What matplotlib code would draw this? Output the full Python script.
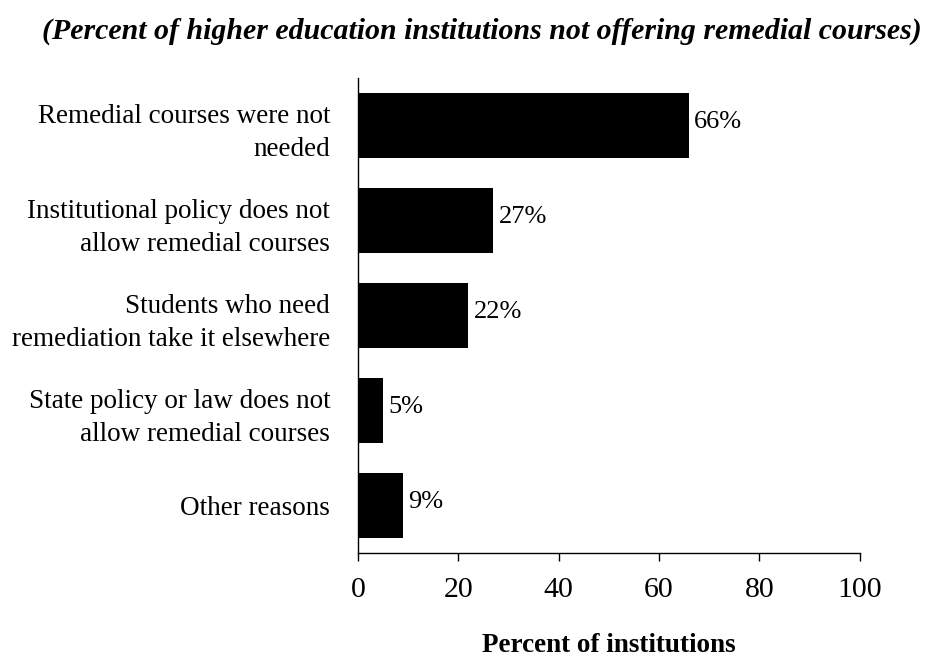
import matplotlib
matplotlib.use("Agg")
import matplotlib.pyplot as plt

# ── Data ─────────────────────────────────────────────────────────────
reasons = [
    "Remedial courses were not\nneeded",
    "Institutional policy does not\nallow remedial courses",
    "Students who need\nremediation take it elsewhere",
    "State policy or law does not\nallow remedial courses",
    "Other reasons",
]
percent = [66, 27, 22, 5, 9]
xticks = [0, 20, 40, 60, 80, 100]

plt.rcParams["font.family"] = ["Liberation Serif", "DejaVu Serif"]

fig = plt.figure(figsize=(9.31, 6.59), dpi=100)
ax = fig.add_axes([0.3845, 0.1608, 0.539, 0.7208])

pos = list(range(len(reasons)))
ax.barh(pos, percent, height=0.684, color="black")

for y, v in zip(pos, percent):
    ax.text(v + 1, y - 0.04, f"{v}%", va="center", ha="left", fontsize=19)

ax.set_xlim(0, 100)
ax.set_ylim(4.5, -0.5)
ax.set_xticks(xticks)
ax.set_xticklabels([str(t) for t in xticks], fontsize=21.5)
ax.set_yticks(pos)
ax.set_yticklabels(reasons, fontsize=19.5, linespacing=1.45)
ax.tick_params(axis="y", length=0, pad=20)
ax.tick_params(axis="x", length=6, width=1, pad=11, direction="out")

ax.spines["top"].set_visible(False)
ax.spines["right"].set_visible(False)
ax.spines["left"].set_linewidth(1)
ax.spines["bottom"].set_linewidth(1)

ax.set_xlabel("Percent of institutions", fontsize=19.5, fontweight="bold",
              va="center")
ax.xaxis.set_label_coords(0.5, -0.194)

fig.text(0.518, 0.952,
         "(Percent of higher education institutions not offering remedial courses)",
         ha="center", va="center", fontsize=21.5, fontweight="bold",
         fontstyle="italic")

fig.savefig("out.png", dpi=100, facecolor="white")
